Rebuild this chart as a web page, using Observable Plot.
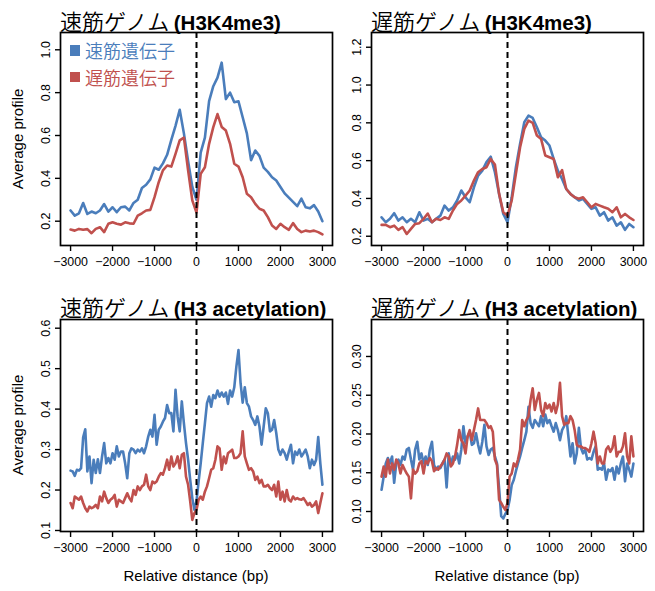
<!DOCTYPE html>
<html><head><meta charset="utf-8">
<script src="https://cdn.jsdelivr.net/npm/d3@7"></script>
<script src="https://cdn.jsdelivr.net/npm/@observablehq/plot@0.6"></script>
<style>
body{margin:0;background:#fff;}
#wrap{position:relative;width:655px;height:591px;overflow:hidden;font-family:"Liberation Sans",Arial,sans-serif;color:#000;background:#fff}
.panel{position:absolute}
.title{position:absolute;white-space:nowrap;line-height:1}
.jp{font-family:"Noto Sans CJK JP";font-size:22px;font-weight:350}
.en{font-family:"Liberation Sans";font-weight:bold;font-size:20.5px}
.xlab{position:absolute;white-space:nowrap;font-size:15px;transform:translate(-50%,-50%)}
.ylab{position:absolute;white-space:nowrap;font-size:15px;transform:translate(-50%,-50%) rotate(-90deg)}
.leg{position:absolute;font-family:"Noto Sans CJK JP";font-size:18px;font-weight:350;line-height:1;white-space:nowrap}
.sw{position:absolute;width:10.5px;height:10.5px}
</style></head>
<body><div id="wrap"></div>
<script>
const blue = "#4a7dbb", red = "#c0504d";
const seriesNames = ["速筋遺伝子", "遅筋遺伝子"];
const panelTitlesJP = ["速筋ゲノム", "遅筋ゲノム", "速筋ゲノム", "遅筋ゲノム"];
const panelTitlesEN = ["(H3K4me3)", "(H3K4me3)", "(H3 acetylation)", "(H3 acetylation)"];
const xLabel = "Relative distance (bp)";
const yLabel = "Average profile";

// bin centres (bp)
const posTop = d3.range(-3000, 3001, 100);
const posBottom = d3.range(-3000, 3001, 50);

const xTicks = [-3000, -2000, -1000, 0, 1000, 2000, 3000];
const yTicks1 = [0.2, 0.4, 0.6, 0.8, 1.0];
const yTicks2 = [0.2, 0.4, 0.6, 0.8, 1.0, 1.2];
const yTicks3 = [0.1, 0.2, 0.3, 0.4, 0.5, 0.6];
const yTicks4 = [0.10, 0.15, 0.20, 0.25, 0.30];

// Panel 1: fast-muscle genome, H3K4me3
const p1Fast = [0.25,0.226,0.237,0.285,0.234,0.245,0.237,0.25,0.28,0.245,
0.265,0.242,0.265,0.268,0.25,0.285,0.30,0.355,0.37,0.395,
0.45,0.44,0.47,0.51,0.58,0.645,0.72,0.61,0.48,0.36,
0.30,
0.52,0.59,0.76,0.83,0.87,0.94,0.77,0.80,0.755,0.76,
0.685,0.61,0.485,0.53,0.505,0.45,0.43,0.405,0.39,0.36,
0.33,0.31,0.29,0.27,0.305,0.265,0.26,0.275,0.245,0.20];
const p1Slow = [0.161,0.156,0.164,0.16,0.163,0.144,0.164,0.172,0.149,0.188,
0.195,0.188,0.184,0.195,0.19,0.188,0.226,0.237,0.25,0.253,
0.312,0.382,0.437,0.46,0.455,0.514,0.577,0.59,0.437,0.297,
0.24,
0.421,0.452,0.561,0.639,0.70,0.64,0.623,0.561,0.468,0.455,
0.405,0.328,0.312,0.281,0.258,0.25,0.219,0.18,0.164,0.188,
0.172,0.16,0.191,0.164,0.149,0.156,0.152,0.156,0.149,0.138];

// Panel 2: slow-muscle genome, H3K4me3
const p2Fast = [0.30,0.274,0.292,0.322,0.283,0.30,0.274,0.292,0.274,0.327,
0.283,0.292,0.274,0.292,0.309,0.362,0.336,0.353,0.389,0.442,
0.406,0.38,0.459,0.521,0.547,0.592,0.621,0.539,0.424,0.318,
0.274,
0.406,0.565,0.689,0.803,0.838,0.826,0.777,0.724,0.706,0.68,
0.609,0.547,0.503,0.45,0.424,0.406,0.389,0.398,0.371,0.345,
0.353,0.309,0.327,0.283,0.30,0.256,0.274,0.234,0.265,0.248];
const p2Slow = [0.26,0.26,0.248,0.256,0.234,0.248,0.212,0.239,0.265,0.269,
0.292,0.32,0.274,0.292,0.286,0.30,0.292,0.336,0.371,0.389,
0.415,0.442,0.495,0.539,0.556,0.565,0.609,0.58,0.424,0.327,
0.309,
0.389,0.53,0.671,0.768,0.812,0.80,0.733,0.715,0.627,0.618,
0.609,0.512,0.55,0.45,0.424,0.406,0.398,0.406,0.38,0.353,
0.371,0.362,0.353,0.345,0.327,0.353,0.30,0.318,0.30,0.286];

// Panel 3: fast-muscle genome, H3 acetylation
const p3Fast = [0.248,0.246,0.235,0.25,0.248,0.254,0.33,0.35,0.246,0.283,
0.217,0.275,0.242,0.276,0.242,0.283,0.316,0.266,0.279,0.266,
0.291,0.275,0.308,0.283,0.295,0.295,0.266,0.229,0.291,0.303,
0.30,0.291,0.30,0.295,0.303,0.291,0.308,0.332,0.349,0.332,
0.386,0.312,0.349,0.357,0.369,0.378,0.41,0.39,0.39,0.345,
0.448,0.382,0.345,0.419,0.365,0.316,0.275,0.225,0.18,0.151,
0.172,0.221,0.266,0.316,0.365,0.415,0.431,0.406,0.435,0.427,
0.446,0.431,0.441,0.431,0.441,0.413,0.446,0.431,0.454,0.505,
0.546,0.464,0.416,0.454,0.415,0.406,0.382,0.373,0.361,0.382,
0.357,0.312,0.357,0.402,0.39,0.345,0.349,0.373,0.341,0.30,
0.287,0.30,0.291,0.275,0.295,0.312,0.266,0.295,0.287,0.30,
0.283,0.291,0.30,0.283,0.254,0.275,0.262,0.275,0.331,0.266,
0.213];
const p3Slow = [0.168,0.155,0.184,0.18,0.176,0.184,0.168,0.155,0.147,0.159,
0.155,0.158,0.163,0.155,0.184,0.172,0.196,0.18,0.168,0.176,
0.18,0.188,0.159,0.176,0.172,0.168,0.18,0.192,0.18,0.172,
0.2,0.188,0.209,0.2,0.209,0.213,0.238,0.209,0.2,0.221,
0.217,0.221,0.233,0.242,0.238,0.254,0.275,0.25,0.283,0.258,
0.266,0.283,0.254,0.287,0.291,0.233,0.213,0.172,0.126,0.143,
0.151,0.176,0.184,0.176,0.196,0.209,0.229,0.25,0.254,0.275,
0.308,0.303,0.25,0.283,0.266,0.291,0.295,0.30,0.279,0.279,
0.283,0.291,0.345,0.283,0.266,0.25,0.254,0.246,0.225,0.233,
0.217,0.225,0.209,0.209,0.213,0.205,0.2,0.213,0.184,0.221,
0.176,0.196,0.172,0.2,0.176,0.172,0.184,0.177,0.18,0.177,
0.176,0.18,0.172,0.163,0.168,0.159,0.163,0.172,0.143,0.168,
0.192];

// Panel 4: slow-muscle genome, H3 acetylation
const p4Fast = [0.128,0.145,0.162,0.169,0.162,0.171,0.137,0.162,0.167,0.160,
0.171,0.167,0.180,0.182,0.167,0.154,0.180,0.190,0.167,0.175,
0.162,0.171,0.160,0.180,0.190,0.160,0.154,0.158,0.156,0.162,
0.167,0.131,0.175,0.160,0.171,0.167,0.175,0.162,0.180,0.210,
0.188,0.197,0.203,0.186,0.188,0.201,0.186,0.175,0.190,0.212,
0.184,0.173,0.180,0.182,0.171,0.162,0.13,0.094,0.091,0.097,
0.102,0.115,0.134,0.141,0.152,0.162,0.171,0.182,0.192,0.203,
0.235,0.214,0.208,0.218,0.214,0.210,0.223,0.210,0.225,0.214,
0.218,0.210,0.203,0.214,0.205,0.192,0.205,0.210,0.223,0.197,
0.171,0.188,0.162,0.175,0.208,0.182,0.175,0.180,0.167,0.169,
0.167,0.177,0.184,0.154,0.156,0.154,0.162,0.141,0.154,0.152,
0.156,0.141,0.158,0.149,0.162,0.171,0.139,0.162,0.154,0.145,
0.162];
const p4Slow = [0.145,0.158,0.145,0.167,0.149,0.162,0.154,0.167,0.162,0.149,
0.160,0.154,0.149,0.145,0.117,0.154,0.149,0.152,0.162,0.165,
0.149,0.165,0.162,0.169,0.165,0.152,0.156,0.154,0.158,0.162,
0.167,0.175,0.171,0.158,0.162,0.171,0.186,0.205,0.192,0.188,
0.175,0.197,0.205,0.192,0.205,0.218,0.233,0.218,0.218,0.218,
0.214,0.208,0.210,0.203,0.167,0.160,0.115,0.111,0.106,0.102,
0.111,0.145,0.149,0.162,0.158,0.167,0.180,0.218,0.210,0.218,
0.223,0.244,0.259,0.231,0.244,0.253,0.231,0.223,0.240,0.233,
0.238,0.229,0.240,0.227,0.238,0.266,0.223,0.212,0.214,0.214,
0.223,0.218,0.205,0.186,0.184,0.184,0.182,0.182,0.180,0.177,
0.188,0.203,0.188,0.162,0.171,0.162,0.162,0.180,0.184,0.177,
0.182,0.197,0.171,0.177,0.177,0.184,0.201,0.171,0.162,0.197,
0.171];

const wrap = document.getElementById("wrap");
const minus = d => d < 0 ? "\u2212" + Math.abs(d) : String(d);

function panel({left, top, pos, fast, slow, yDomain, yTicks, digits}) {
  const rows = s => pos.map((x, i) => ({x, v: s[i]}));
  const chart = Plot.plot({
    width: 340, height: 280,
    marginLeft: 60, marginRight: 8, marginTop: 32, marginBottom: top === 0 ? 35 : 36,
    x: {domain: [-3240, 3240]},
    y: {domain: yDomain},
    style: {fontFamily: "Liberation Sans, Arial, sans-serif", fontSize: "12.4px", color: "#000", background: "transparent", overflow: "visible"},
    marks: [
      Plot.line(rows(fast), {x: "x", y: "v", stroke: blue, strokeWidth: 2.6, strokeLinejoin: "round"}),
      Plot.line(rows(slow), {x: "x", y: "v", stroke: red, strokeWidth: 2.6, strokeLinejoin: "round"}),
      Plot.ruleX([0], {stroke: "#000", strokeWidth: 2, strokeDasharray: "6,4"}),
      Plot.frame({stroke: "#000", strokeWidth: 1.7}),
      Plot.axisX(xTicks, {tickSize: 6, tickPadding: 6, tickFormat: minus, strokeWidth: 1.4, label: null}),
      Plot.axisY(yTicks, {tickSize: 5, tickPadding: 6, tickRotate: -90, tickFormat: d => d.toFixed(digits), strokeWidth: 1.4, label: null})
    ]
  });
  chart.classList.add("panel");
  chart.style.left = left + "px";
  chart.style.top = top + "px";
  wrap.appendChild(chart);
}

panel({left: 0, top: 0, pos: posTop, fast: p1Fast, slow: p1Slow, yDomain: [0.0866, 1.0807], yTicks: yTicks1, digits: 1});
panel({left: 311, top: 0, pos: posTop, fast: p2Fast, slow: p2Slow, yDomain: [0.151, 1.278], yTicks: yTicks2, digits: 1});
panel({left: 0, top: 287, pos: posBottom, fast: p3Fast, slow: p3Slow, yDomain: [0.0975, 0.6215], yTicks: yTicks3, digits: 1});
panel({left: 311, top: 287, pos: posBottom, fast: p4Fast, slow: p4Slow, yDomain: [0.0742, 0.3477], yTicks: yTicks4, digits: 2});

// titles
const titlePos = [[60, 9], [371, 9], [60, 295], [371, 295]];
titlePos.forEach(([l, t], i) => {
  const d = document.createElement("div");
  d.className = "title";
  d.style.left = l + "px"; d.style.top = t + "px";
  d.innerHTML = `<span class="jp">${panelTitlesJP[i]}</span> <span class="en">${panelTitlesEN[i]}</span>`;
  wrap.appendChild(d);
});

// axis labels
[[17, 138.5], [17, 425]].forEach(([x, y]) => {
  const d = document.createElement("div");
  d.className = "ylab"; d.textContent = yLabel;
  d.style.left = x + "px"; d.style.top = y + "px";
  wrap.appendChild(d);
});
[[196, 575], [507, 575]].forEach(([x, y]) => {
  const d = document.createElement("div");
  d.className = "xlab"; d.textContent = xLabel;
  d.style.left = x + "px"; d.style.top = y + "px";
  wrap.appendChild(d);
});

// legend
[[blue, 45, 41], [red, 71.5, 67.5]].forEach(([c, sy, ty], i) => {
  const s = document.createElement("div");
  s.className = "sw"; s.style.background = c;
  s.style.left = "69.5px"; s.style.top = sy + "px";
  wrap.appendChild(s);
  const t = document.createElement("div");
  t.className = "leg"; t.style.color = c; t.textContent = seriesNames[i];
  t.style.left = "85px"; t.style.top = ty + "px";
  wrap.appendChild(t);
});
</script>
</body></html>
